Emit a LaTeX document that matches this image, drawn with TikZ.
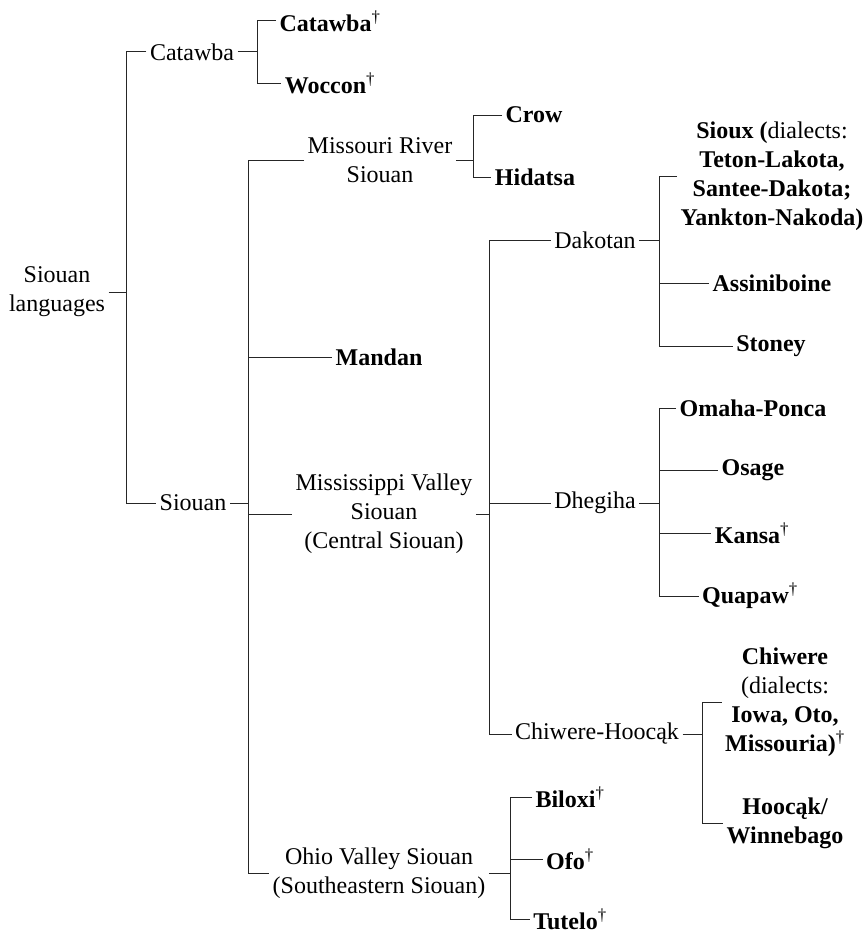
\documentclass[tikz,border=0pt]{standalone}
\usepackage{fontspec}
\setmainfont{Liberation Serif}
\usepackage{tikz}
\usetikzlibrary{positioning}
\tikzset{
  grp/.style={align=center, font=\fontsize{24}{29}\selectfont},
  lang/.style={align=center, font=\fontsize{24}{29}\selectfont\bfseries},
  branch/.style={line width=1pt, draw=black!85},
}
\newcommand{\extinct}{\textsuperscript{\mdseries\textdagger}}

\begin{document}
\begin{tikzpicture}[x=1pt, y=-1pt]
  \useasboundingbox (0,0) rectangle (865,934);
  % groups
  \node[grp] (sl) at (57,292) {Siouan\\languages};
  \node[grp] (catawba) at (192,52) {Catawba};
  \node[grp] (siouan) at (193,503) {Siouan};
  \node[grp] (missouri) at (380,160) {Missouri River\\Siouan};
  \node[lang] (mandan) at (379,357) {Mandan};
  \node[grp] (mississippi) at (384,514) {Mississippi Valley\\Siouan\\(Central Siouan)};
  \node[grp] (ohio) at (379,873) {Ohio Valley Siouan\\(Southeastern Siouan)};
  \node[grp] (dakotan) at (595,240) {Dakotan};
  \node[grp] (dhegiha) at (595,503) {Dhegiha};
  \node[grp] (chiwho) at (597,734) {Chiwere-Hoocąk};
  % languages
  \node[lang] (catawbaL) at (330,21) {Catawba\extinct};
  \node[lang] (woccon) at (330,83) {Woccon\extinct};
  \node[lang] (crow) at (534,115) {Crow};
  \node[lang] (hidatsa) at (535,177) {Hidatsa};
  \node[lang] (sioux) at (772,176) {Sioux (\mdseries dialects:\\Teton-Lakota,\\Santee-Dakota;\\Yankton-Nakoda)};
  \node[lang] (assiniboine) at (772,283) {Assiniboine};
  \node[lang] (stoney) at (771,346) {Stoney};
  \node[lang] (omaha) at (753,408) {Omaha-Ponca};
  \node[lang] (osage) at (753,470) {Osage};
  \node[lang] (kansa) at (752,533) {Kansa\extinct};
  \node[lang] (quapaw) at (750,596) {Quapaw\extinct};
  \node[lang] (chiwere) at (785,702) {Chiwere\\{\mdseries(dialects:}\\Iowa, Oto,\\Missouria)\extinct};
  \node[lang] (hoocak) at (785,823) {Hoocąk/\\Winnebago};
  \node[lang] (biloxi) at (570,797) {Biloxi\extinct};
  \node[lang] (ofo) at (570,859) {Ofo\extinct};
  \node[lang] (tutelo) at (570,919) {Tutelo\extinct};
  % bar positions
  \coordinate (b0) at (126,0);
  \coordinate (b1) at (257,0);
  \coordinate (b2) at (248,0);
  \coordinate (b3) at (473,0);
  \coordinate (b4) at (489,0);
  \coordinate (b5) at (659,0);
  \coordinate (b7) at (702,0);
  \coordinate (b8) at (510,0);
  % Siouan languages
  \draw[branch] (sl.east) -- (sl.east -| b0);
  \draw[branch] (catawba.west) -| (b0 |- siouan.west) -- (siouan.west);
  % Catawba
  \draw[branch] (catawba.east) -- (catawba.east -| b1);
  \draw[branch] (catawbaL.west) -| (b1 |- woccon.west) -- (woccon.west);
  % Siouan
  \draw[branch] (siouan.east) -- (siouan.east -| b2);
  \draw[branch] (missouri.west) -| (b2 |- ohio.west) -- (ohio.west);
  \draw[branch] (b2 |- mandan.west) -- (mandan.west);
  \draw[branch] (b2 |- mississippi.west) -- (mississippi.west);
  % Missouri River Siouan
  \draw[branch] (missouri.east) -- (missouri.east -| b3);
  \draw[branch] (crow.west) -| (b3 |- hidatsa.west) -- (hidatsa.west);
  % Mississippi Valley Siouan
  \draw[branch] (mississippi.east) -- (mississippi.east -| b4);
  \draw[branch] (dakotan.west) -| (b4 |- chiwho.west) -- (chiwho.west);
  \draw[branch] (b4 |- dhegiha.west) -- (dhegiha.west);
  % Dakotan
  \draw[branch] (dakotan.east) -- (dakotan.east -| b5);
  \draw[branch] (sioux.west) -| (b5 |- stoney.west) -- (stoney.west);
  \draw[branch] (b5 |- assiniboine.west) -- (assiniboine.west);
  % Dhegiha
  \draw[branch] (dhegiha.east) -- (dhegiha.east -| b5);
  \draw[branch] (omaha.west) -| (b5 |- quapaw.west) -- (quapaw.west);
  \draw[branch] (b5 |- osage.west) -- (osage.west);
  \draw[branch] (b5 |- kansa.west) -- (kansa.west);
  % Chiwere-Hoocak
  \draw[branch] (chiwho.east) -- (chiwho.east -| b7);
  \draw[branch] (chiwere.west) -| (b7 |- hoocak.west) -- (hoocak.west);
  % Ohio Valley Siouan
  \draw[branch] (ohio.east) -- (ohio.east -| b8);
  \draw[branch] (biloxi.west) -| (b8 |- tutelo.west) -- (tutelo.west);
  \draw[branch] (b8 |- ofo.west) -- (ofo.west);
\end{tikzpicture}
\end{document}
